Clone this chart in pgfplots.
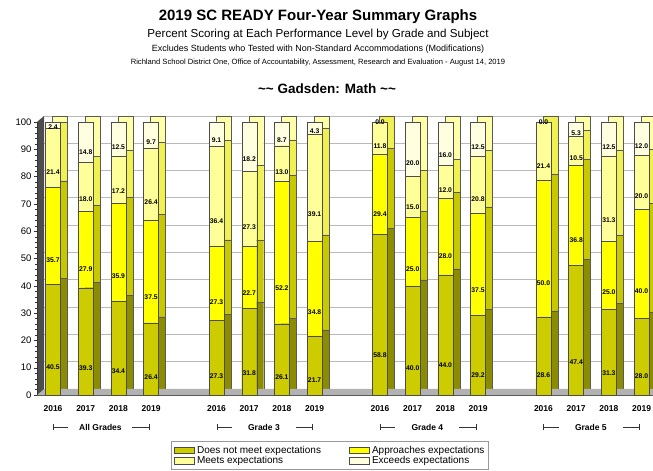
\documentclass[border=0pt]{standalone}
\usepackage{pgfplots}
\usepackage{pgfplotstable}
\pgfplotsset{compat=1.18}
\usepackage{fontspec}
\setmainfont{Liberation Sans}
\definecolor{cDN}{HTML}{CCCC00}
\definecolor{cAP}{HTML}{FFFF00}
\definecolor{cME}{HTML}{FFFF99}
\definecolor{cEX}{HTML}{FFFFE0}
\definecolor{sDN}{HTML}{8C8C00}
\definecolor{sAP}{HTML}{C8C800}
\definecolor{sME}{HTML}{F0F050}
\definecolor{sEX}{HTML}{FFFFA8}
\pgfplotstableread{
x  dn   ap   me   ex
0  40.5 35.7 21.4 2.4
1  39.3 27.9 18.0 14.8
2  34.4 35.9 17.2 12.5
3  26.4 37.5 26.4 9.7
5  27.3 27.3 36.4 9.1
6  31.8 22.7 27.3 18.2
7  26.1 52.2 13.0 8.7
8  21.7 34.8 39.1 4.3
10 58.8 29.4 11.8 0.0
11 40.0 25.0 15.0 20.0
12 44.0 28.0 12.0 16.0
13 29.2 37.5 20.8 12.5
15 28.6 50.0 21.4 0.0
16 47.4 36.8 10.5 5.3
17 31.3 25.0 31.3 12.5
18 28.0 40.0 20.0 12.0
}\data
% labels of the zero-height "Exceeds" segments (drawn at the bar top)
\pgfplotstableread{
x  y   lab
10 100 0.0
15 100 0.0
}\zerolab
\pgfplotsset{
  geom/.style={scale only axis, width=616pt, height=273pt,
    xmin=-0.49, xmax=18.35, ymin=0, ymax=100, clip=false,
    /pgf/number format/assume math mode=true},
  base/.style={geom, ybar stacked, bar width=15pt},
  myleg/.style={legend image code/.code={\draw[##1] (0pt,-3.2pt) rectangle (20pt,3.2pt);}},
  lab/.style={nodes near coords={\pgfmathprintnumber[fixed,fixed zerofill,precision=1]{\pgfplotspointmeta}},
    visualization depends on={\thisrow{#1} \as \rawy},
    every node near coord/.style={font=\bfseries\fontsize{6.8}{7}\selectfont, anchor=center, inner sep=0pt, text=black,
      shift={(axis direction cs:0,-\rawy/4)}}},
}
\begin{document}
\begin{tikzpicture}
\path[use as bounding box] (0,0) rectangle (653pt,471pt);
% titles
\node[font=\bfseries\fontsize{15}{16}\selectfont] at (318pt,454pt) {2019 SC READY Four-Year Summary Graphs};
\node[font=\fontsize{11.6}{12}\selectfont] at (318pt,436pt) {Percent Scoring at Each Performance Level by Grade and Subject};
\node[font=\fontsize{9}{10}\selectfont] at (318pt,422pt) {Excludes Students who Tested with Non-Standard Accommodations (Modifications)};
\node[font=\fontsize{7.6}{8}\selectfont] at (318pt,408pt) {Richland School District One, Office of Accountability, Assessment, Research and Evaluation - August 14, 2019};
\node[font=\bfseries\fontsize{13.5}{14}\selectfont] at (327pt,382pt) {\char`\~\char`\~{} Gadsden: Math \char`\~\char`\~};
% back axis: walls, grid, side faces
\begin{axis}[base, at={(44pt,82pt)}, anchor=south west,
  axis line style={draw=none}, xtick=\empty,
  ytick={0,10,...,100}, yticklabels={}, ytick style={draw=none},
  ymajorgrids, grid style={gray!55, line width=0.9pt}]
\fill[black!70] ([shift={(-7pt,-6pt)}]rel axis cs:0,0) -- ([shift={(-7pt,-6pt)}]rel axis cs:0,1) -- (rel axis cs:0,1) -- (rel axis cs:0,0) -- cycle;
\fill[gray!60] ([shift={(-7pt,-6pt)}]rel axis cs:0,0) -- ([shift={(-7pt,-6pt)}]rel axis cs:1,0) -- (rel axis cs:1,0) -- (rel axis cs:0,0) -- cycle;
\addplot[fill=sDN, draw=black!65] table[x=x,y=dn]{\data};
\addplot[fill=sAP, draw=black!65] table[x=x,y=ap]{\data};
\addplot[fill=sME, draw=black!65] table[x=x,y=me]{\data};
\addplot[fill=sEX, draw=black!65] table[x=x,y=ex]{\data};
\end{axis}
% front axis
\begin{axis}[base, at={(37pt,76pt)}, anchor=south west,
  axis x line*=bottom, axis y line*=left,
  x axis line style={gray!70!black, -}, y axis line style={black!80, -},
  xtick={0,1,2,3,5,6,7,8,10,11,12,13,15,16,17,18},
  xticklabels={2016,2017,2018,2019,2016,2017,2018,2019,2016,2017,2018,2019,2016,2017,2018,2019},
  x tick style={draw=none},
  xticklabel style={font=\bfseries\fontsize{8.5}{9}\selectfont, yshift=-4pt},
  ytick={0,10,...,100}, minor y tick num=4, tick align=outside,
  major tick length=3pt, minor tick length=2pt, y tick style={black!80},
  yticklabel style={font=\fontsize{9.5}{10}\selectfont, xshift=1pt},
  legend style={at={(0.476,-0.168)}, anchor=north, draw=gray!80, line width=1pt,
    font=\fontsize{10}{11}\selectfont, legend columns=2, row sep=-2pt, inner sep=2.5pt,
    /tikz/every even column/.append style={column sep=26pt}},
  legend cell align=left]
\addplot[fill=cDN, draw=black!70, myleg, lab=dn] table[x=x,y=dn]{\data};
\addplot[fill=cAP, draw=black!70, myleg, lab=ap] table[x=x,y=ap]{\data};
\addplot[fill=cME, draw=black!70, myleg, lab=me] table[x=x,y=me]{\data};
\addplot[fill=cEX, draw=black!70, myleg, lab=ex] table[x=x,y=ex]{\data};
\legend{Does not meet expectations, Approaches expectations, Meets expectations, Exceeds expectations}
\foreach \a/\t in {0/All Grades, 5/Grade 3, 10/Grade 4, 15/Grade 5}{
  \edef\tmp{\noexpand\draw[black!80, |-, line width=0.6pt] ([yshift=-32pt]axis cs:\a,0) -- ([yshift=-32pt]axis cs:\a+0.47,0);
  \noexpand\draw[black!80, -|, line width=0.6pt] ([yshift=-32pt]axis cs:\a+2.43,0) -- ([yshift=-32pt]axis cs:\a+2.95,0);
  \noexpand\node[inner sep=1pt, font=\noexpand\bfseries\noexpand\fontsize{8.5}{9}\noexpand\selectfont] at ([yshift=-32pt]axis cs:\a+1.45,0) {\t};}
  \tmp
}
\end{axis}
% overlay axis: labels of zero-height segments
\begin{axis}[geom, at={(37pt,76pt)}, anchor=south west, hide axis]
\addplot[draw=none, mark=none, nodes near coords, point meta=explicit symbolic,
  every node near coord/.style={font=\bfseries\fontsize{6.8}{7}\selectfont, anchor=center, inner sep=0pt, text=black}]
  table[x=x, y=y, meta=lab]{\zerolab};
\end{axis}
\end{tikzpicture}
\end{document}
